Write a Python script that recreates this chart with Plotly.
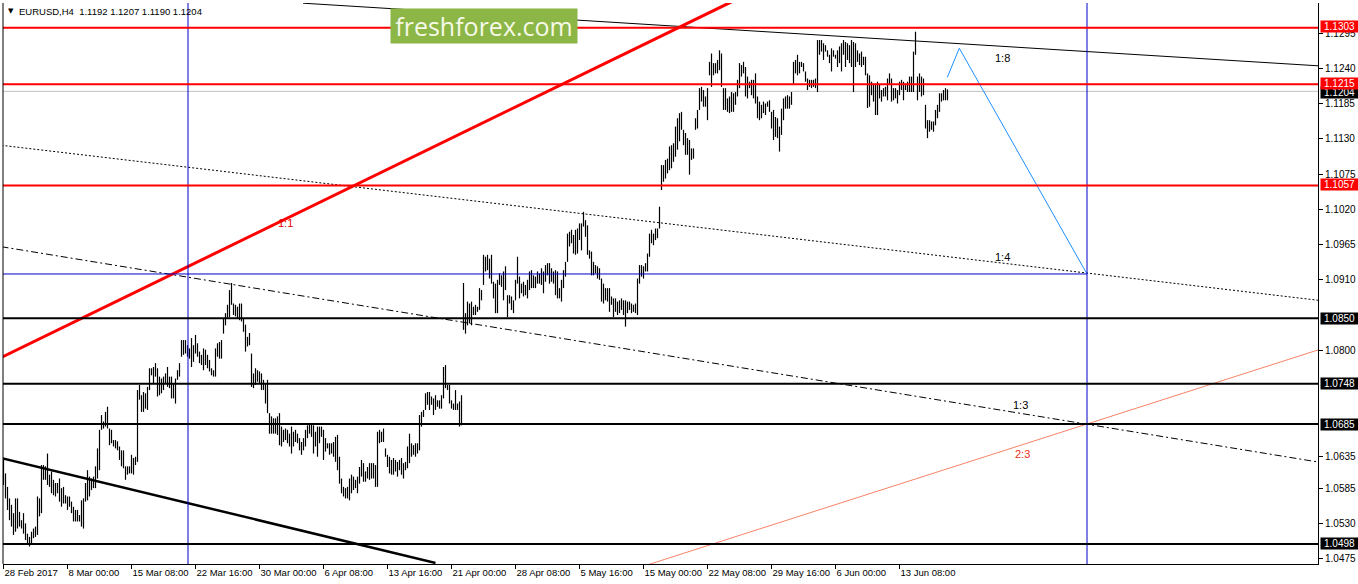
import plotly.graph_objects as go

# ---------------- data (EURUSD H4, prices in pips: 10629 -> 1.0629) ----------------
high_a = [10629,10608,10587,10569,10559,10546,10569,10569,10548,10535,
          10546,10530,10514,10509,10517,10522,10525,10572,10569,10621,
          10621,10619,10639,10606,10611,10598,10593,10593,10600,10585,
          10587,10574,10572,10572,10564,10556,10551,10551,10543,10566,
          10569,10593,10613,10603,10600,10603,10619,10647,10676,10699,
          10689,10704,10712,10678,10676,10660,10660,10658,10650,10644,
          10644,10619,10619,10619,10637,10632,10634,10738,10746,10730,
          10735,10733,10743,10772,10772,10774,10780,10772,10759,10756,
          10759,10764,10774,10759,10759,10748,10756,10769,10780,10816,
          10816,10816,10808,10803,10819,10808,10824,10811,10798,10793,
          10803,10801,10793,10785,10772,10769,10803,10811,10813,10816,
          10850,10858,10871,10894,10905,10873]
low_a = [10590,10569,10551,10535,10525,10512,10517,10522,10525,10522,
         10514,10504,10499,10494,10499,10507,10509,10512,10541,10546,
         10598,10598,10590,10587,10577,10574,10572,10577,10564,10556,
         10561,10561,10551,10556,10546,10533,10533,10533,10533,10525,
         10522,10564,10566,10572,10582,10585,10585,10600,10613,10676,
         10678,10681,10678,10652,10655,10650,10647,10644,10629,10619,
         10616,10598,10606,10608,10608,10606,10621,10626,10723,10704,
         10704,10709,10707,10738,10761,10748,10759,10728,10730,10733,
         10738,10748,10743,10741,10725,10725,10717,10754,10759,10790,
         10793,10795,10790,10787,10774,10782,10795,10790,10780,10777,
         10769,10777,10772,10767,10761,10759,10759,10790,10787,10787,
         10826,10839,10850,10852,10871,10855]
high_b = [10871,10868,10873,10873,10850,10840,10821,10827,10795,10764,
          10772,10769,10767,10764,10754,10749,10754,10702,10697,10694,
          10694,10697,10702,10681,10676,10678,10676,10670,10681,10673,
          10676,10670,10663,10657,10663,10676,10683,10686,10686,10683,
          10673,10681,10681,10681,10676,10663,10655,10655,10655,10657,
          10665,10668,10634,10600,10587,10585,10587,10600,10606,10603,
          10598,10603,10618,10629,10624,10611,10618,10624,10624,10624,
          10621,10673,10676,10673,10678,10647,10637,10634,10629,10632,
          10629,10626,10629,10632,10624,10626,10650,10670,10655,10652,
          10655,10655,10699,10704,10707,10733,10735,10735,10728,10725,
          10730,10722,10722,10730,10774,10777,10746,10746,10722,10717,
          10738,10717,10720,10730]
low_b = [10853,10850,10847,10845,10829,10798,10806,10808,10743,10741,
         10746,10751,10748,10738,10738,10717,10702,10670,10670,10670,
         10670,10668,10652,10650,10657,10660,10655,10650,10639,10650,
         10657,10655,10644,10637,10644,10650,10663,10670,10665,10639,
         10650,10634,10655,10665,10629,10642,10647,10637,10639,10634,
         10626,10613,10592,10577,10572,10569,10569,10566,10577,10582,
         10585,10577,10592,10603,10595,10595,10600,10598,10600,10600,
         10587,10587,10655,10657,10657,10634,10618,10608,10606,10606,
         10611,10603,10613,10606,10600,10613,10616,10624,10634,10637,
         10634,10639,10644,10681,10696,10707,10715,10707,10715,10699,
         10707,10712,10709,10709,10725,10741,10738,10717,10709,10707,
         10707,10707,10681,10683]
high_c = [10905,10858,10876,10873,10876,10868,10871,10868,10897,10894,
          10949,10946,10949,10943,10949,10907,10904,10910,10920,10917,
          10923,10931,10886,10886,10884,10878,10910,10946,10915,10904,
          10907,10902,10910,10923,10925,10917,10915,10923,10920,10928,
          10923,10933,10936,10936,10928,10923,10925,10923,10897,10910,
          10925,10938,10982,10985,10988,10980,10988,10990,10998,10998,
          11016,11003,10995,10956,10954,10938,10933,10931,10928,10912,
          10904,10897,10897,10897,10884,10881,10881,10876,10878,10881,
          10878,10878,10876,10876,10873,10871,10873,10912,10933,10933,
          10931,10936,10951,10982,10988,10982,10990,10990,11024]
low_c = [10832,10826,10839,10842,10839,10855,10855,10860,10863,10878,
         10902,10923,10925,10912,10904,10881,10858,10858,10902,10899,
         10878,10894,10852,10873,10863,10858,10878,10904,10881,10889,
         10884,10886,10881,10894,10897,10897,10897,10904,10904,10902,
         10889,10907,10917,10904,10907,10904,10886,10881,10881,10876,
         10897,10915,10938,10962,10967,10951,10949,10951,10972,10956,
         10993,10977,10949,10943,10917,10917,10920,10912,10910,10876,
         10873,10878,10876,10860,10871,10852,10860,10855,10858,10863,
         10855,10837,10858,10863,10858,10860,10858,10855,10904,10915,
         10912,10923,10923,10946,10967,10964,10972,10975,10990]
high_d = [11089,11089,11097,11099,11118,11120,11123,11149,11162,11170,
          11172,11144,11139,11131,11128,11115,11115,11162,11175,11209,
          11211,11206,11196,11209,11250,11263,11248,11248,11253,11268,
          11263,11209,11209,11193,11196,11203,11201,11203,11222,11248,
          11245,11250,11242,11227,11219,11222,11222,11232,11196,11188,
          11183,11188,11185,11188,11190,11172,11175,11164,11162,11149,
          11177,11193,11196,11198,11196,11203,11250,11253,11261,11250,
          11250,11248,11235,11224,11222,11222,11222,11224,11284,11284,
          11284,11279,11276,11268,11261,11271,11268,11261,11268,11274,
          11279,11284,11281,11279,11276,11284,11281,11279,11268,11263,
          11266,11258,11258,11232,11229,11219,11216,11216,11219,11214,
          11206,11209,11211,11224,11232,11224,11209,11209,11206,11219,
          11222,11219,11216,11219,11227,11227,11266,11297,11227,11232,
          11227,11224,11183,11159,11159,11157,11157,11175,11183,11201,
          11201,11206,11209,11207]
low_d = [11050,11063,11068,11076,11081,11084,11094,11102,11113,11126,
         11144,11120,11105,11105,11074,11097,11099,11144,11146,11175,
         11188,11180,11180,11159,11229,11211,11229,11232,11232,11237,
         11211,11175,11175,11172,11170,11172,11172,11183,11196,11209,
         11227,11232,11196,11193,11209,11198,11193,11185,11162,11159,
         11162,11170,11167,11180,11172,11146,11128,11133,11131,11110,
         11136,11159,11177,11177,11177,11183,11216,11232,11229,11232,
         11242,11235,11219,11206,11211,11209,11211,11209,11203,11261,
         11266,11253,11266,11258,11248,11235,11258,11255,11242,11248,
         11235,11261,11242,11253,11248,11242,11203,11242,11250,11245,
         11242,11245,11229,11178,11180,11198,11188,11167,11167,11193,
         11188,11196,11196,11190,11214,11188,11190,11193,11185,11198,
         11206,11190,11206,11203,11203,11203,11203,11261,11190,11203,
         11196,11198,11146,11131,11141,11144,11141,11151,11162,11172,
         11188,11190,11190,11190]

tick_index = [0, 32, 64, 96, 128, 160, 192, 224, 256, 288, 320, 352, 384, 416, 448]
tick_text = ["28 Feb 2017", "8 Mar 00:00", "15 Mar 08:00", "22 Mar 16:00", "30 Mar 00:00",
             "6 Apr 08:00", "13 Apr 16:00", "21 Apr 00:00", "28 Apr 08:00", "5 May 16:00",
             "15 May 00:00", "22 May 08:00", "29 May 16:00", "6 Jun 00:00", "13 Jun 08:00"]
price_ticks = [1.1295, 1.1240, 1.1185, 1.1130, 1.1075, 1.1020, 1.0965, 1.0910,
               1.0800, 1.0635, 1.0585, 1.0530, 1.0475]
red_levels = [1.1303, 1.1215, 1.1057]
black_levels = [1.0850, 1.0748, 1.0685, 1.0498]
bid_price = 1.1204
header_text = "EURUSD,H4  1.1192 1.1207 1.1190 1.1204"

# drawn objects: (bar index, price)
trend_11 = ([-1, 364], [1.0789, 1.13437])
trend_18 = ([149.75, 660], [1.13415, 1.12433])
trend_14 = ([-1, 660], [1.11198, 1.08771])
trend_13 = ([-1, 660], [1.09616, 1.06244])
trend_23 = ([320, 660], [1.04633, 1.08033])
trend_low = ([-1, 216], [1.06319, 1.04683])
forecast_path = ([471.9, 477.9, 541.75], [1.12259, 1.12712, 1.09191])
vlines = [92.25, 541.75]
hline_target = ([-0.25, 541.75], [1.09191, 1.09191])
ratio_labels = [("1:1", 140.75, 1.0999, "#e00000"), ("1:8", 499.25, 1.1256, "#000000"),
                ("1:4", 499.25, 1.09456, "#000000"), ("1:3", 508.25, 1.07147, "#000000"),
                ("2:3", 509.25, 1.0638, "#e83020")]

# ---------------- figure ----------------
highs = high_a + high_b + high_c + high_d
lows = low_a + low_b + low_c + low_d
bx, by = [], []
for i, (h, l) in enumerate(zip(highs, lows)):
    bx += [i, i, None]
    by += [l / 10000, h / 10000, None]

FONT = "Liberation Sans"
FS = 10
FSX = 9.5
fig = go.Figure()
fig.add_trace(go.Scatter(x=bx, y=by, mode="lines", line=dict(color="#000000", width=1.2),
                         hoverinfo="skip", showlegend=False))

def seg(xs, ys, color, width, dash=None):
    fig.add_trace(go.Scatter(x=xs, y=ys, mode="lines", showlegend=False, hoverinfo="skip",
                             line=dict(color=color, width=width, dash=dash)))

seg(*trend_14, "#000000", 1, "2px,2px")
seg(*trend_13, "#000000", 1, "7px,3px,2px,3px")
seg(*trend_23, "#f78466", 1)
seg(*trend_18, "#000000", 1)
seg(*trend_low, "#000000", 2.5)
seg(*trend_11, "#ff0000", 3)
seg(*hline_target, "#0000c8", 1)
seg(*forecast_path, "#1e90ff", 1)

shapes = []
for v in vlines:
    shapes.append(dict(type="line", xref="x", yref="paper", x0=v, x1=v, y0=0, y1=1,
                       line=dict(color="#0000c8", width=1)))
for lv in red_levels:
    shapes.append(dict(type="line", xref="paper", yref="y", x0=0, x1=1, y0=lv, y1=lv,
                       line=dict(color="#ff0000", width=2)))
for lv in black_levels:
    shapes.append(dict(type="line", xref="paper", yref="y", x0=0, x1=1, y0=lv, y1=lv,
                       line=dict(color="#000000", width=2)))
shapes.append(dict(type="line", xref="paper", yref="y", x0=0, x1=1, y0=bid_price, y1=bid_price,
                   line=dict(color="#c0c0c0", width=1), layer="below"))
shapes.append(dict(type="line", xref="paper", yref="paper", x0=0, x1=0, y0=0, y1=1,
                   line=dict(color="#000000", width=1)))

ann = []
def level_box(lv, bg, yshift=0):
    ann.append(dict(xref="paper", yref="y", x=1, y=lv, xanchor="left", yanchor="middle",
                    xshift=2, yshift=yshift, text=f"{lv:.4f}", showarrow=False, bgcolor=bg,
                    borderpad=0, width=37, height=11, align="center", valign="middle",
                    font=dict(family=FONT, size=FS, color="#ffffff")))
level_box(bid_price, "#000000", -1)
for lv in black_levels:
    level_box(lv, "#000000")
for lv in red_levels:
    level_box(lv, "#ff0000", 1)

for txt, xi, p, col in ratio_labels:
    ann.append(dict(xref="x", yref="y", x=xi, y=p, text=txt, showarrow=False,
                    font=dict(family=FONT, size=11, color=col)))

W, H = 1358, 584
ML, MR, MT, MB = 3, 40, 3, 20
PW, PH = W - ML - MR, H - MT - MB
def px(xp):
    return (xp - ML) / PW
def py(yp):
    return (H - MB - yp) / PH

ann.append(dict(xref="paper", yref="paper", x=px(6), y=py(11), xanchor="left", yanchor="middle",
                text="▼", showarrow=False, font=dict(family="DejaVu Sans", size=7, color="#000000")))
ann.append(dict(xref="paper", yref="paper", x=px(17), y=py(11), xanchor="left", yanchor="middle",
                text=header_text, showarrow=False, font=dict(family=FONT, size=FSX, color="#000000")))
ann.append(dict(xref="paper", yref="paper", x=px(390), y=py(8), xanchor="left", yanchor="top",
                text="freshforex.com", showarrow=False, width=186, height=34, bgcolor="#8cb645",
                borderpad=0, align="center", valign="middle",
                font=dict(family="Open Sans", size=25, color="#f6f9e8")))

fig.update_layout(
    width=W, height=H, margin=dict(l=ML, r=MR, t=MT, b=MB, autoexpand=False),
    paper_bgcolor="#ffffff", plot_bgcolor="#ffffff",
    shapes=shapes, annotations=ann, showlegend=False,
    xaxis=dict(range=[-0.25, 657.25], tickvals=tick_index, ticktext=tick_text, tickangle=0,
               automargin=False,
               ticks="outside", ticklen=4, tickcolor="#000000", showgrid=False, zeroline=False,
               showline=True, linecolor="#000000", linewidth=1, ticklabelposition="outside right",
               tickfont=dict(family=FONT, size=FSX, color="#000000")),
    yaxis=dict(range=[1.046667, 1.134180], side="right", tickvals=price_ticks, automargin=False,
               ticktext=[f"{v:.4f}" for v in price_ticks], ticks="outside", ticklen=4,
               tickcolor="#000000", showgrid=False, zeroline=False, showline=True,
               linecolor="#000000", linewidth=1,
               tickfont=dict(family=FONT, size=FS, color="#000000")),
)
fig.write_html("out.html", config={"displayModeBar": False},
               post_script="document.body.style.margin='0';document.body.style.overflow='hidden';")
